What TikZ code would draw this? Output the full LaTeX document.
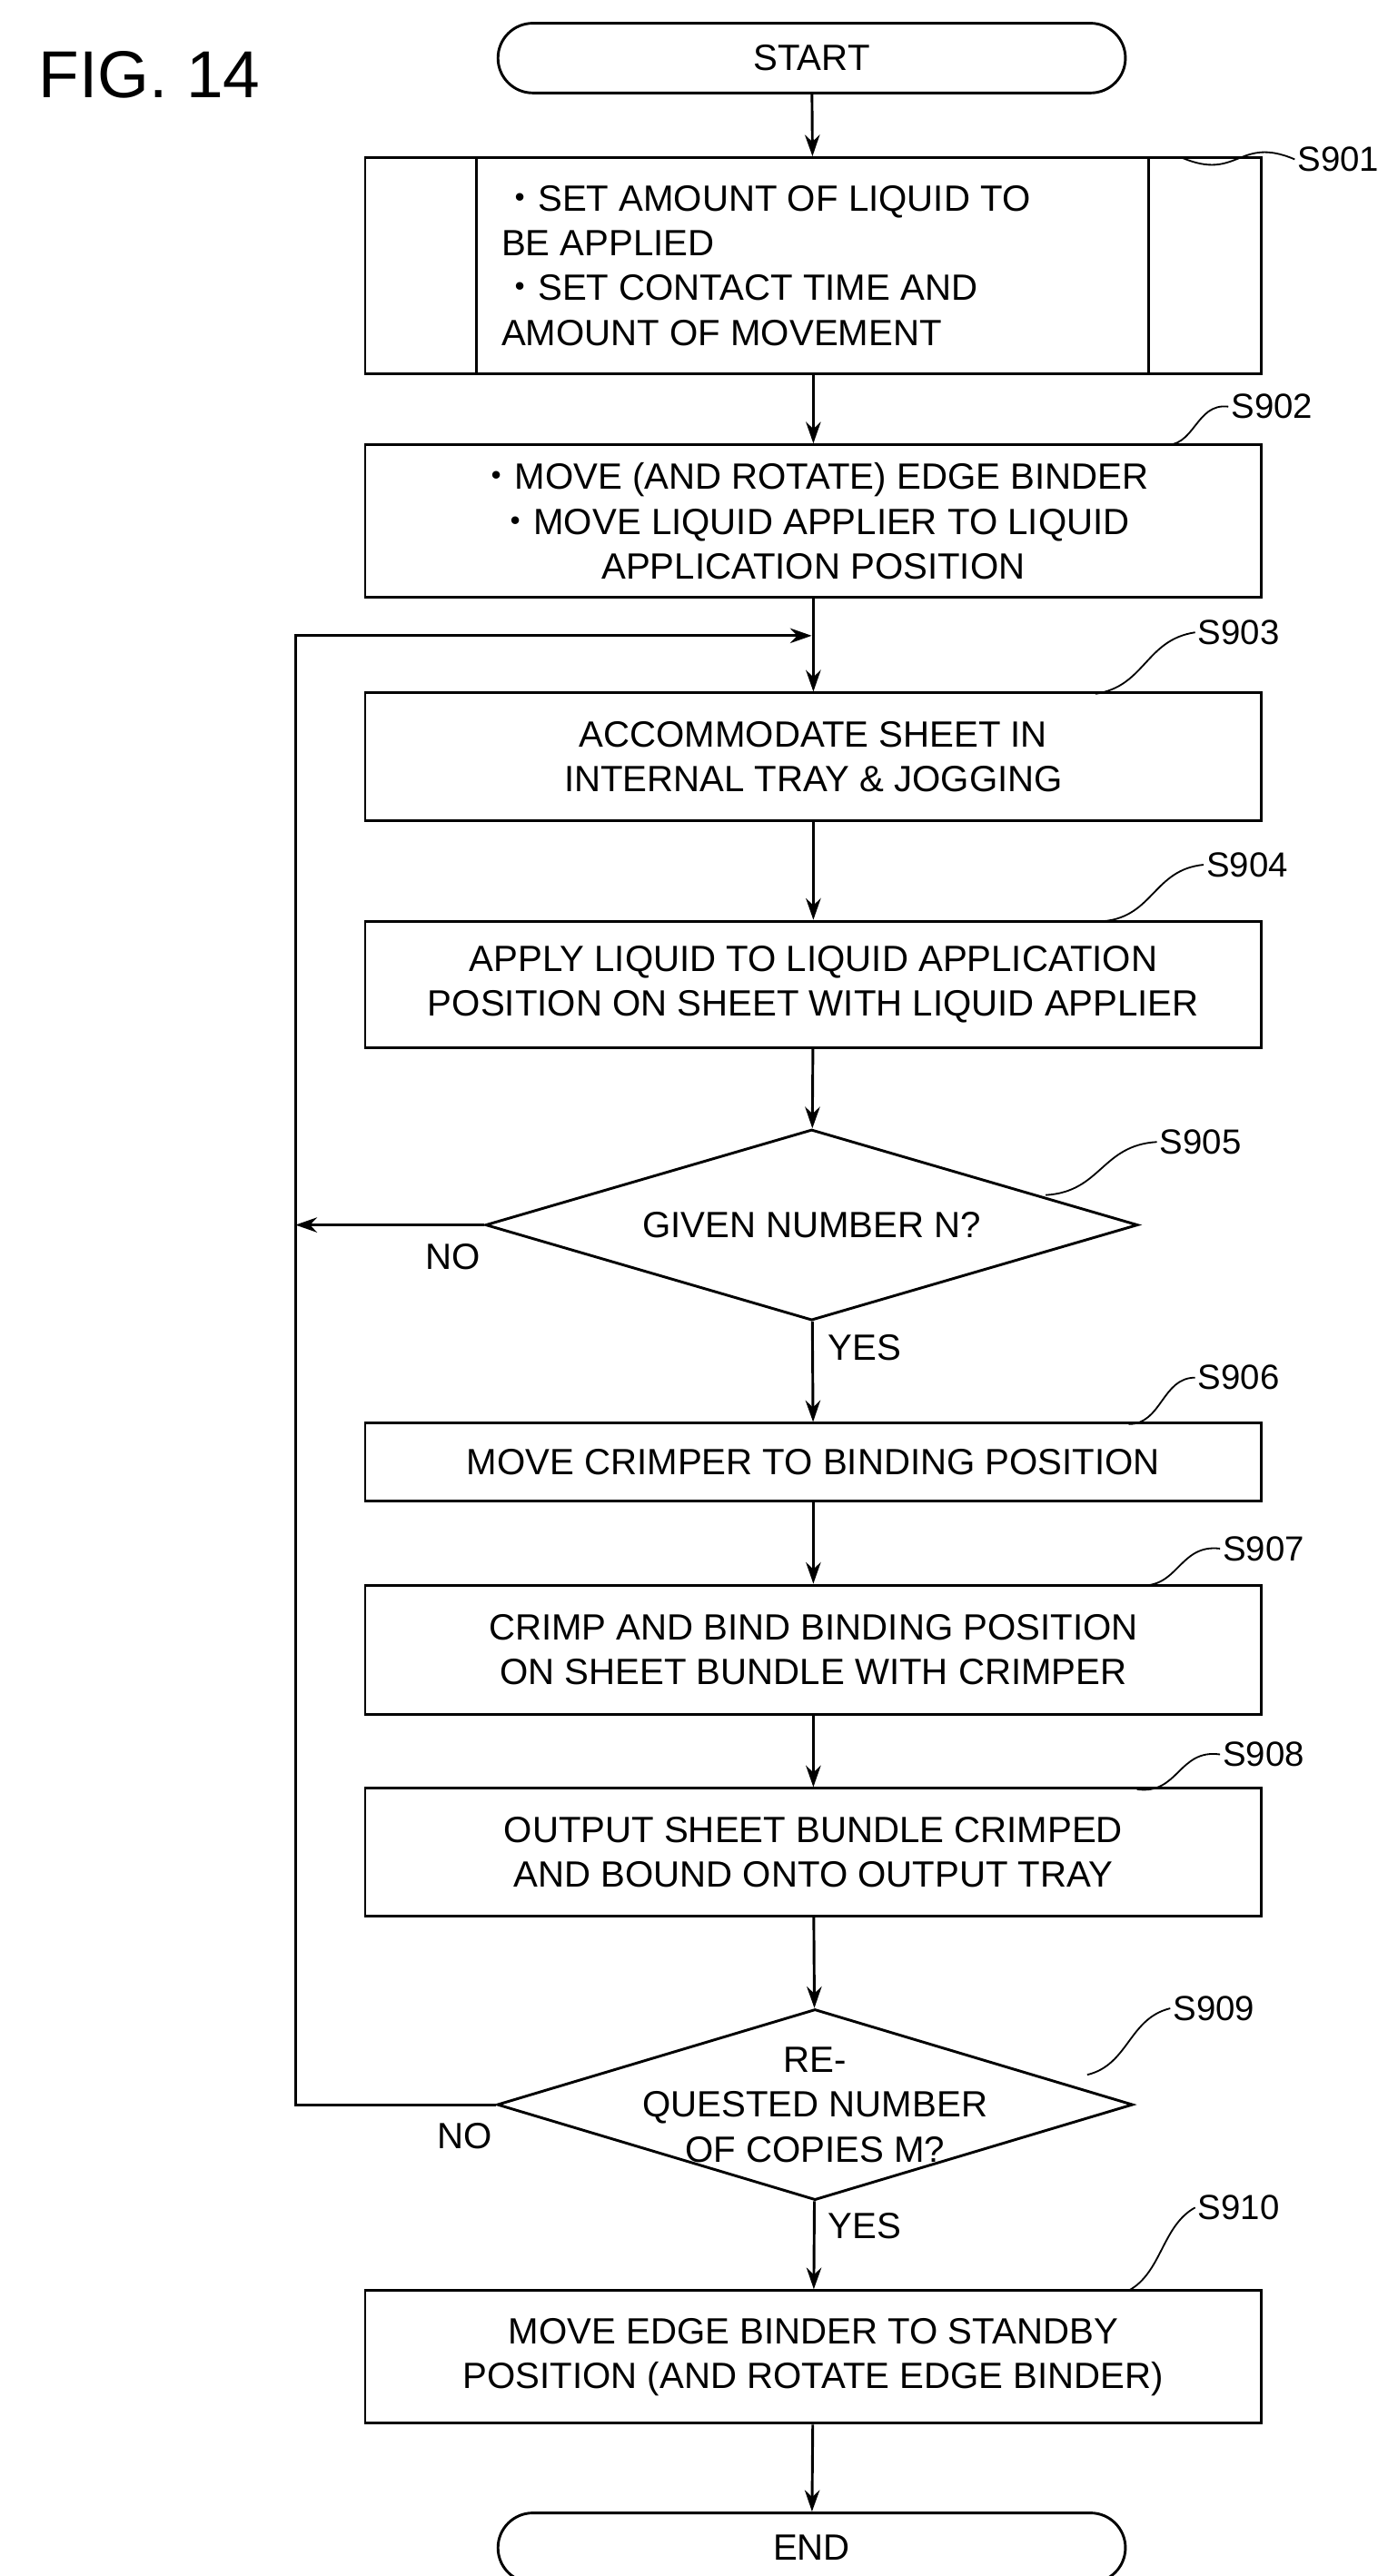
\documentclass[tikz,border=0pt]{standalone}
\usepackage{fontspec}
\setmainfont{Liberation Sans}
\newfontfamily\cjk{Noto Sans CJK JP}
\usetikzlibrary{arrows.meta,shapes.geometric,calc}
\newcommand{\dotb}{{\cjk ・}}
\begin{document}
\begin{tikzpicture}[x=1pt,y=-1pt,line width=1.6pt,
  txt/.style={font=\fontsize{22}{27}\selectfont,align=center},
  box/.style={draw,txt,minimum width=540pt,inner sep=0pt},
  term/.style={draw,txt,rounded corners=21pt,minimum width=378pt,minimum height=42pt,inner sep=0pt},
  dia/.style={draw,diamond,inner sep=0pt},
  arr/.style={-{Stealth[length=13pt,width=9pt]}},
  lab/.style={font=\fontsize{21}{25}\selectfont,anchor=west,inner sep=1pt},
  sq/.style={line width=1pt}]
\useasboundingbox (0,0) rectangle (830,1552);
\node[font=\fontsize{40}{44}\selectfont] (fig) at (90,45) {FIG. 14};
\node[term] (start) at (489,35) {START};
\node[box,minimum height=130pt] (s1) at (490,160) {};
\draw (287,95) -- (287,225) (692,95) -- (692,225);
\node[txt,align=left,anchor=west] (t1) at (298,160) {\dotb SET AMOUNT OF LIQUID TO\\BE APPLIED\\\dotb SET CONTACT TIME AND\\AMOUNT OF MOVEMENT};
\node[box,minimum height=92pt] (s2) at (490,314) {\dotb MOVE (AND ROTATE) EDGE BINDER\\\dotb MOVE LIQUID APPLIER TO LIQUID\\APPLICATION POSITION};
\node[box,minimum height=77pt] (s3) at (490,456) {ACCOMMODATE SHEET IN\\INTERNAL TRAY \& JOGGING};
\node[box,minimum height=76pt] (s4) at (490,593) {APPLY LIQUID TO LIQUID APPLICATION\\POSITION ON SHEET WITH LIQUID APPLIER};
\node[dia,minimum width=393pt,minimum height=115pt] (s5) at (489,738) {};
\node[txt] at (489,738) {GIVEN NUMBER N?};
\node[box,minimum height=47pt] (s6) at (490,881) {MOVE CRIMPER TO BINDING POSITION};
\node[box,minimum height=78pt] (s7) at (490,994) {CRIMP AND BIND BINDING POSITION\\ON SHEET BUNDLE WITH CRIMPER};
\node[box,minimum height=77pt] (s8) at (490,1116) {OUTPUT SHEET BUNDLE CRIMPED\\AND BOUND ONTO OUTPUT TRAY};
\node[dia,minimum width=383pt,minimum height=115pt] (s9) at (491,1268) {};
\node[txt] at (491,1268) {RE-\\QUESTED NUMBER\\OF COPIES M?};
\node[box,minimum height=80pt] (s10) at (490,1420) {MOVE EDGE BINDER TO STANDBY\\POSITION (AND ROTATE EDGE BINDER)};
\node[term] (end) at (489,1535) {END};
\draw[arr] (start) -- (s1);
\draw[arr] (s1) -- (s2);
\coordinate (j) at (489,383);
\draw[arr] (s2) -- (s3);
\draw[arr] (s3) -- (s4);
\draw[arr] (s4) -- (s5);
\draw[arr] (s5) -- (s6);
\draw[arr] (s6) -- (s7);
\draw[arr] (s7) -- (s8);
\draw[arr] (s8) -- (s9);
\draw[arr] (s9) -- (s10);
\draw[arr] (s10) -- (end);
\coordinate (l5) at (178,738);
\draw[arr] (s5.west) -- (l5);
\coordinate (l9) at (178,1268);
\coordinate (lt) at (178,383);
\draw[arr] (s9.west) -- (l9) -- (lt) -- (j);
\node[txt] (no1) at (273,757) {NO};
\node[txt] (yes1) at (521,812) {YES};
\node[txt] (no2) at (280,1287) {NO};
\node[txt] (yes2) at (521,1341) {YES};
\foreach \n/\bx/\by/\lx/\ly in {901/712/95/780/96, 902/700/268/740/245, 903/660/418/720/381, 904/665/555/725/521, 905/630/720/697/688, 906/680/858/720/830, 907/685/955/735/933, 908/685/1078/735/1057, 909/655/1250/705/1210, 910/680/1380/720/1330}{
  \node[lab] (L\n) at (\lx,\ly) {S\n};
  \coordinate (B\n) at (\bx,\by);
  \draw[sq] (B\n) .. controls ($(B\n)!0.5!(L\n.west)+(0,14)$) and ($(B\n)!0.5!(L\n.west)+(0,-14)$) .. (L\n.west);
}
\end{tikzpicture}
\end{document}
